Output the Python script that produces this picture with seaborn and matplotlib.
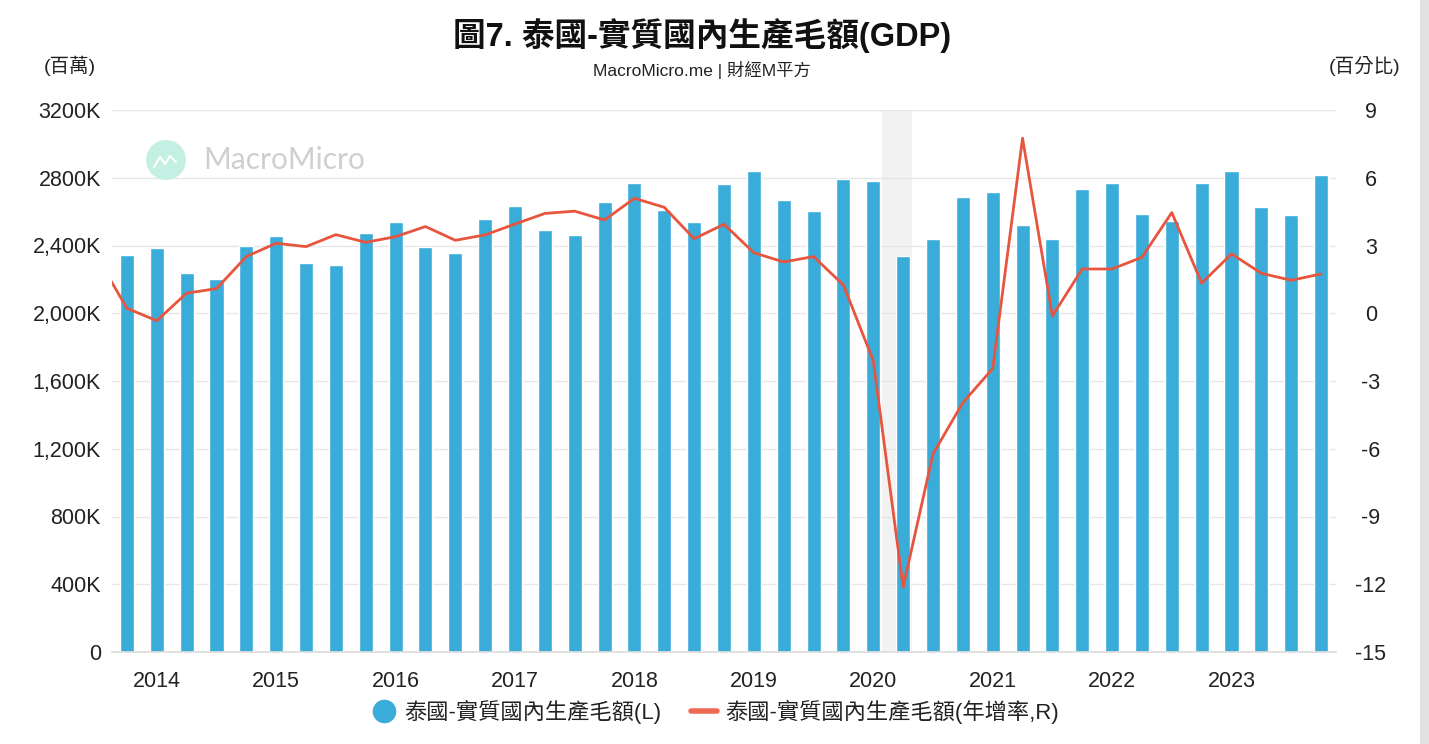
import numpy as np
import pandas as pd
import seaborn as sns
import matplotlib.pyplot as plt
from matplotlib.lines import Line2D
from matplotlib.patches import Ellipse, Rectangle

# quarters 2013Q4 .. 2023Q4
quarters = [f"{y}Q{q}" for y in range(2013, 2024) for q in range(1, 5)][3:]

# real GDP, millions THB (left axis)
gdp = [2342, 2383, 2235, 2204, 2395, 2456, 2298, 2283, 2471, 2537,
       2389, 2354, 2558, 2633, 2489, 2462, 2656, 2771, 2609, 2537,
       2765, 2841, 2668, 2603, 2792, 2780, 2340, 2440, 2688, 2718,
       2519, 2440, 2733, 2771, 2587, 2546, 2771, 2841, 2627, 2580,
       2816]

# yoy growth %, right axis (first value is 2013Q3, mostly off the left edge)
yoy = [2.49, 0.22, -0.33, 0.89, 1.09, 2.51, 3.10, 2.95, 3.48, 3.14,
       3.39, 3.84, 3.23, 3.47, 3.95, 4.42, 4.52, 4.13, 5.09, 4.69,
       3.30, 3.94, 2.68, 2.27, 2.51, 1.25, -2.10, -12.13, -6.23, -3.96,
       -2.45, 7.75, -0.12, 1.96, 1.96, 2.48, 4.46, 1.33, 2.63, 1.77,
       1.46, 1.74]

year_labels = [str(y) for y in range(2014, 2024)]
left_ticks = [0, 400, 800, 1200, 1600, 2000, 2400, 2800, 3200]
left_labels = ["0", "400K", "800K", "1,200K", "1,600K", "2,000K", "2,400K", "2800K", "3200K"]
right_ticks = [-15, -12, -9, -6, -3, 0, 3, 6, 9]

BLUE = "#3AACD9"
RED = "#E8553E"

sns.set_theme(style="white")
plt.rcParams['font.family'] = ['Liberation Sans', 'Noto Sans CJK TC']
plt.rcParams['axes.unicode_minus'] = False

df_bar = pd.DataFrame({"quarter": quarters, "gdp": gdp})
df_line = pd.DataFrame({"pos": np.arange(-1, len(quarters)), "yoy": yoy})

fig = plt.figure(figsize=(14.29, 7.44), dpi=100)
ax = fig.add_axes([112 / 1429, 1 - 652 / 744, (1336 - 112) / 1429, (652 - 110) / 744])

# COVID shading
ax.axvspan(25.3, 26.3, color="#F2F2F2", zorder=0, lw=0)

sns.barplot(data=df_bar, x="quarter", y="gdp", color=BLUE, width=0.47,
            saturation=1, ax=ax, zorder=2)

ax.set_ylim(0, 3200)
ax.set_yticks(left_ticks)
ax.set_yticklabels(left_labels)
ax.yaxis.grid(True, color="#E6E6E6", lw=1)
ax.set_axisbelow(True)
ax.set_xlabel("")
ax.set_ylabel("")
ax.set_xticks(np.arange(1, 41, 4))
ax.set_xticklabels(year_labels)
ax.tick_params(axis="x", length=6, color="#DDDDDD", width=1, pad=8, labelsize=15.5, colors="#222222")
ax.tick_params(axis="y", length=0, pad=8, labelsize=15.5, colors="#222222")
for s in ["top", "left", "right"]:
    ax.spines[s].set_visible(False)
ax.spines["bottom"].set_color("#DDDDDD")

ax2 = ax.twinx()
sns.lineplot(data=df_line, x="pos", y="yoy", color=RED, lw=2, ax=ax2, zorder=3)
ax2.set_ylim(-15, 9)
ax2.set_yticks(right_ticks)
ax2.set_ylabel("")
ax2.tick_params(axis="y", length=0, pad=25, labelsize=15.5, colors="#222222")
for lab in ax2.get_yticklabels():
    lab.set_horizontalalignment("center")
for s in ["top", "left", "right", "bottom"]:
    ax2.spines[s].set_visible(False)
ax.set_xlim(-0.5, 40.5)
ax2.set_xlim(-0.5, 40.5)
ax2.grid(False)

# titles
fig.text(0.4915, 1 - 35 / 744, "圖7. 泰國-實質國內生產毛額(GDP)", ha="center", va="center",
         fontsize=23.5, fontweight="bold", color="#111111")
fig.text(0.4915, 1 - 70 / 744, "MacroMicro.me | 財經M平方", ha="center", va="center",
         fontsize=12.5, color="#222222")
fig.text(70 / 1429, 1 - 66 / 744, "(百萬)", ha="center", va="center", fontsize=14, color="#222222")
fig.text(1365 / 1429, 1 - 66 / 744, "(百分比)", ha="center", va="center", fontsize=14, color="#222222")

# watermark
fig.add_artist(Ellipse((166 / 1429, 1 - 160 / 744), 40 / 1429, 40 / 744,
                       transform=fig.transFigure, color="#C4F0E4", lw=0, zorder=1))
fig.add_artist(Line2D(np.array([154, 160, 165, 170, 176]) / 1429,
                      1 - np.array([167, 157, 164, 156, 162]) / 744,
                      transform=fig.transFigure, color="white", lw=1.5))
fig.text(203 / 1429, 1 - 160 / 744, "MacroMicro", ha="left", va="center",
         fontsize=21.5, color="#CFCFCF", family=["Lato", "DejaVu Sans"])

# right card shadow
fig.add_artist(Rectangle((1420 / 1429, 0), 9 / 1429, 1, transform=fig.transFigure,
                         color="#E2E2E2", lw=0))

# legend
handles = [Line2D([], [], marker="o", ls="none", color=BLUE, markersize=16),
           Line2D([], [], color="#EE6A55", lw=4)]
labels = ["泰國-實質國內生產毛額(L)", "泰國-實質國內生產毛額(年增率,R)"]
fig.legend(handles, labels, loc="center", bbox_to_anchor=(0.5, 1 - 712 / 744), ncol=2,
           frameon=False, fontsize=16, handlelength=1.2, handletextpad=0.35, columnspacing=1.3,
           labelcolor="#222222")

fig.savefig("out.png", dpi=100)
